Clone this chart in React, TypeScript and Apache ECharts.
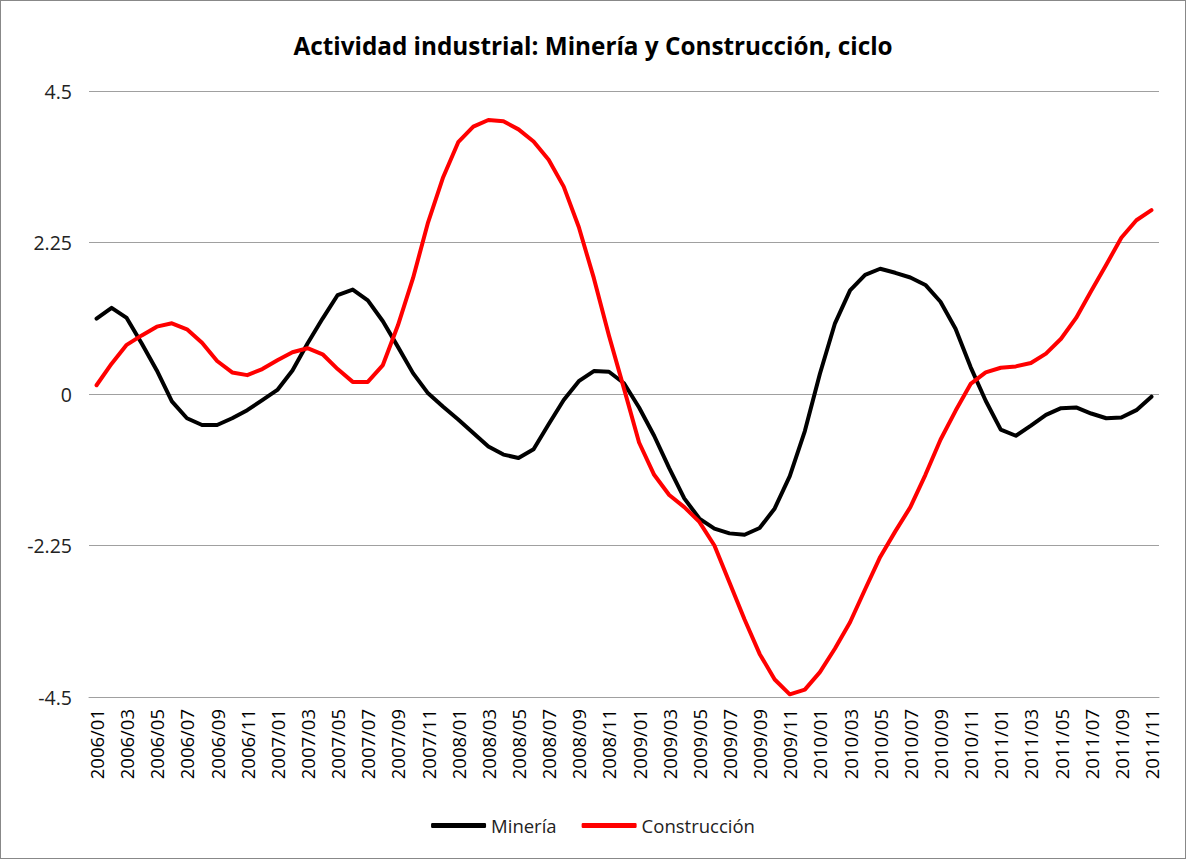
import React, { useEffect, useRef } from "react";
import * as echarts from "echarts";

const years = ["2006", "2007", "2008", "2009", "2010", "2011"];
const months = ["01", "02", "03", "04", "05", "06", "07", "08", "09", "10", "11", "12"];
const categories: string[] = [];
years.forEach((y) => months.forEach((m) => categories.push(`${y}/${m}`)));
categories.splice(71);

const mineria = [
  1.12, 1.28, 1.13, 0.75, 0.35, -0.11, -0.36, -0.46, -0.46, -0.36, -0.24, -0.09,
  0.06, 0.35, 0.75, 1.12, 1.47, 1.55, 1.39, 1.08, 0.7, 0.31, 0.01, -0.19,
  -0.38, -0.58, -0.78, -0.9, -0.95, -0.82, -0.45, -0.09, 0.19, 0.34, 0.33, 0.16,
  -0.2, -0.62, -1.1, -1.55, -1.85, -2.0, -2.07, -2.09, -1.99, -1.7, -1.22, -0.55,
  0.3, 1.05, 1.54, 1.77, 1.86, 1.8, 1.73, 1.62, 1.37, 0.97, 0.4, -0.1,
  -0.53, -0.62, -0.47, -0.31, -0.21, -0.2, -0.29, -0.36, -0.35, -0.24, -0.04,
];

const construccion = [
  0.13, 0.45, 0.73, 0.87, 1.0, 1.05, 0.96, 0.76, 0.49, 0.32, 0.28, 0.37,
  0.5, 0.62, 0.68, 0.59, 0.37, 0.18, 0.18, 0.43, 1.02, 1.72, 2.55, 3.22,
  3.74, 3.97, 4.07, 4.05, 3.93, 3.75, 3.48, 3.08, 2.48, 1.72, 0.87, 0.08,
  -0.72, -1.2, -1.5, -1.68, -1.9, -2.25, -2.8, -3.35, -3.86, -4.24, -4.46, -4.39,
  -4.13, -3.78, -3.39, -2.9, -2.42, -2.04, -1.68, -1.2, -0.68, -0.25, 0.15, 0.32,
  0.39, 0.41, 0.46, 0.6, 0.82, 1.13, 1.53, 1.92, 2.32, 2.58, 2.73,
];

const yMin = -4.5;
const yMax = 4.5;
const yStep = 2.25;

export default function App() {
  const ref = useRef<HTMLDivElement>(null);
  useEffect(() => {
    if (!ref.current) return;
    const chart = echarts.init(ref.current, null, { renderer: "svg" });
    const font = "'Open Sans', 'Liberation Sans', sans-serif";
    chart.setOption({
      animation: false,
      backgroundColor: "#ffffff",
      textStyle: { fontFamily: font },
      title: {
        text: "Actividad industrial: Minería y Construcción, ciclo",
        left: "center",
        top: 27,
        textStyle: { fontSize: 24.3, fontWeight: "bold", color: "#000", fontFamily: font },
      },
      grid: { left: 88, right: 26, top: 90, bottom: 161, containLabel: false },
      legend: {
        top: 810,
        left: "center",
        itemWidth: 55,
        itemHeight: 5,
        itemGap: 25,
        icon: "roundRect",
        textStyle: { fontSize: 18.5, color: "#222", fontFamily: font },
        data: ["Minería", "Construcción"],
      },
      xAxis: {
        type: "category",
        data: categories,
        boundaryGap: true,
        axisLine: { show: true, onZero: false, lineStyle: { color: "#a0a0a0", width: 1 } },
        axisTick: { show: false },
        axisLabel: {
          interval: 1,
          rotate: 90,
          fontSize: 18.5,
          color: "#000",
          margin: 12,
          fontFamily: font,
        },
      },
      yAxis: {
        type: "value",
        min: yMin,
        max: yMax,
        interval: yStep,
        axisLine: { show: false },
        axisTick: { show: false },
        splitLine: { lineStyle: { color: "#a0a0a0", width: 1 } },
        axisLabel: {
          fontSize: 19.5,
          color: "#222",
          margin: 17,
          fontFamily: font,
        },
      },
      series: [
        {
          name: "Minería",
          type: "line",
          data: mineria,
          symbol: "none",
          lineStyle: { color: "#000000", width: 4, join: "round", cap: "round" },
          itemStyle: { color: "#000000" },
        },
        {
          name: "Construcción",
          type: "line",
          data: construccion,
          symbol: "none",
          lineStyle: { color: "#ff0000", width: 4, join: "round", cap: "round" },
          itemStyle: { color: "#ff0000" },
        },
      ],
    });
    return () => chart.dispose();
  }, []);
  return (
    <div
      style={{
        position: "fixed",
        left: 0,
        top: 0,
        width: 1186,
        height: 859,
        boxSizing: "border-box",
        border: "1px solid #888",
        background: "#fff",
      }}
    >
      <div ref={ref} style={{ width: 1184, height: 857 }} />
    </div>
  );
}
